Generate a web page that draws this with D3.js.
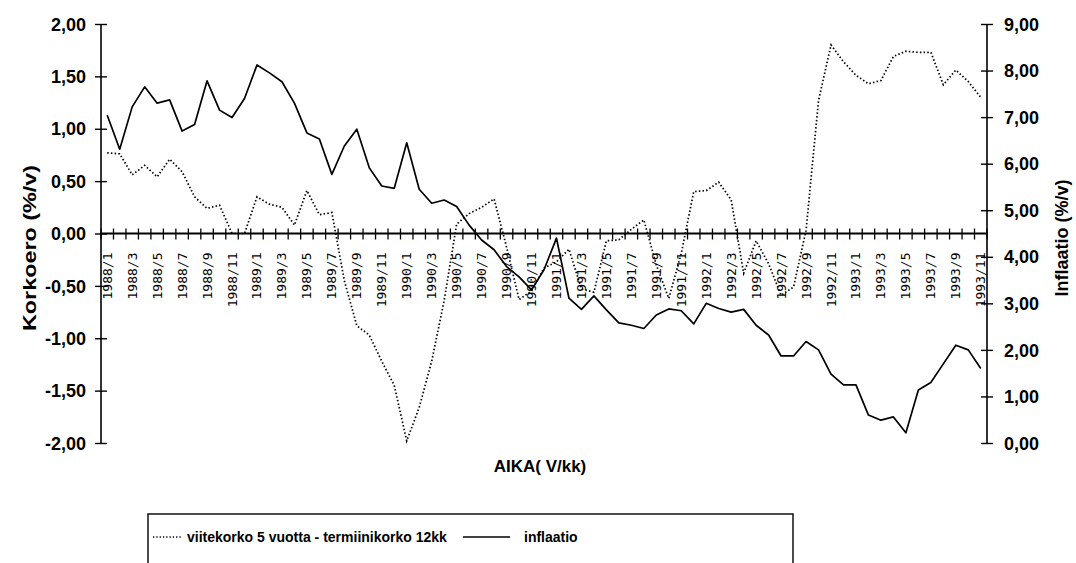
<!DOCTYPE html>
<html><head><meta charset="utf-8">
<script src="https://cdn.jsdelivr.net/npm/d3@7"></script>
<style>body{margin:0;background:#fff;} svg{display:block;}</style>
</head><body><svg id="c" width="1076" height="563"></svg>
<script>
const categories = [
"1988/1","1988/2","1988/3","1988/4","1988/5","1988/6","1988/7","1988/8","1988/9","1988/10","1988/11","1988/12",
"1989/1","1989/2","1989/3","1989/4","1989/5","1989/6","1989/7","1989/8","1989/9","1989/10","1989/11","1989/12",
"1990/1","1990/2","1990/3","1990/4","1990/5","1990/6","1990/7","1990/8","1990/9","1990/10","1990/11","1990/12",
"1991/1","1991/2","1991/3","1991/4","1991/5","1991/6","1991/7","1991/8","1991/9","1991/10","1991/11","1991/12",
"1992/1","1992/2","1992/3","1992/4","1992/5","1992/6","1992/7","1992/8","1992/9","1992/10","1992/11","1992/12",
"1993/1","1993/2","1993/3","1993/4","1993/5","1993/6","1993/7","1993/8","1993/9","1993/10","1993/11"];

// viitekorko 5 vuotta - termiinikorko 12kk (left axis, %/v)
const korkoero = [
0.77,0.76,0.56,0.65,0.54,0.71,0.59,0.35,0.24,0.27,0.00,0.00,
0.35,0.28,0.25,0.08,0.41,0.18,0.20,-0.45,-0.88,-0.97,-1.22,-1.45,
-1.98,-1.66,-1.22,-0.64,0.09,0.19,0.25,0.33,-0.13,-0.63,-0.55,-0.33,
-0.27,-0.15,-0.53,-0.56,-0.07,-0.06,0.04,0.13,-0.30,-0.62,-0.19,0.40,
0.41,0.49,0.32,-0.38,-0.07,-0.29,-0.59,-0.51,0.03,1.27,1.80,1.64,
1.51,1.43,1.46,1.69,1.74,1.73,1.73,1.42,1.56,1.45,1.30];

// inflaatio (right axis, %/v)
const inflaatio = [
7.04,6.31,7.22,7.65,7.30,7.37,6.70,6.84,7.78,7.15,6.99,7.40,
8.12,7.95,7.76,7.30,6.66,6.53,5.77,6.38,6.74,5.91,5.52,5.47,
6.45,5.45,5.15,5.22,5.08,4.68,4.36,4.15,3.79,3.57,3.29,3.72,
4.40,3.11,2.87,3.16,2.86,2.58,2.53,2.46,2.75,2.88,2.84,2.56,
3.00,2.89,2.81,2.87,2.53,2.32,1.87,1.87,2.18,2.00,1.48,1.25,
1.25,0.60,0.49,0.56,0.22,1.14,1.30,1.70,2.10,2.00,1.60];

const leftTicks = [-2,-1.5,-1,-0.5,0,0.5,1,1.5,2];
const rightTicks = [0,1,2,3,4,5,6,7,8,9];
const seriesNames = ["viitekorko 5 vuotta - termiinikorko 12kk","inflaatio"];
const leftTitle = "Korkoero (%/v)";
const rightTitle = "Inflaatio (%/v)";
const xTitle = "AIKA( V/kk)";

const fmt = v => v.toFixed(2).replace(".", ",");
const svg = d3.select("#c");
const FB = "'Liberation Sans', Arial, sans-serif";

const x = d3.scaleBand().domain(categories).range([101, 987]);
const bw = x.bandwidth();
const cx = c => x(c) + bw / 2;
const yL = d3.scaleLinear().domain([-2, 2]).range([443, 24]);
const yR = d3.scaleLinear().domain([0, 9]).range([443, 24]);

// left axis
const gL = svg.append("g").attr("transform", "translate(101,0)")
  .call(d3.axisLeft(yL).tickValues(leftTicks).tickFormat(fmt).tickSize(6).tickPadding(9));
gL.select(".domain").attr("d", `M0,${yL(2)}V${yL(-2)}`).attr("stroke", "#000").attr("stroke-width", 1.6);
gL.selectAll(".tick line").attr("x1", -6).attr("x2", 6).attr("stroke-width", 1.4);
gL.selectAll(".tick text").attr("font-family", FB).attr("font-weight", "bold").attr("font-size", 18).attr("fill", "#000").attr("dy", "0.34em");

// right axis
const gR = svg.append("g").attr("transform", "translate(987,0)")
  .call(d3.axisRight(yR).tickValues(rightTicks).tickFormat(fmt).tickSize(6).tickPadding(11));
gR.select(".domain").attr("d", `M0,${yR(9)}V${yR(0)}`).attr("stroke", "#000").attr("stroke-width", 1.6);
gR.selectAll(".tick line").attr("x1", -6).attr("x2", 6).attr("stroke-width", 1.4);
gR.selectAll(".tick text").attr("font-family", FB).attr("font-weight", "bold").attr("font-size", 18).attr("fill", "#000").attr("dy", "0.34em");

// x axis at zero
const y0 = yL(0);
svg.append("line").attr("x1", 101).attr("x2", 987).attr("y1", y0).attr("y2", y0)
  .attr("stroke", "#000").attr("stroke-width", 1.8);
const bounds = categories.map(c => x(c)).concat([x(categories[categories.length - 1]) + bw]);
svg.append("g").selectAll("line").data(bounds).join("line")
  .attr("x1", d => d).attr("x2", d => d).attr("y1", y0 - 5).attr("y2", y0 + 6)
  .attr("stroke", "#000").attr("stroke-width", 1.3);
svg.append("g").selectAll("text").data(categories.filter((c, i) => i % 2 === 0)).join("text")
  .attr("transform", d => `translate(${cx(d)},${y0 + 19}) rotate(-90)`)
  .attr("text-anchor", "end").attr("dominant-baseline", "central")
  .attr("font-family", "'DejaVu Sans Mono', 'Liberation Mono', monospace").attr("font-size", 13)
  .attr("fill", "#000").text(d => d);

// lines
const lineL = d3.line().x((d, i) => cx(categories[i])).y(d => yL(d));
const lineR = d3.line().x((d, i) => cx(categories[i])).y(d => yR(d));
svg.append("path").attr("d", lineL(korkoero)).attr("fill", "none")
  .attr("stroke", "#000").attr("stroke-width", 1.7).attr("stroke-dasharray", "1.5,2.2");
svg.append("path").attr("d", lineR(inflaatio)).attr("fill", "none")
  .attr("stroke", "#000").attr("stroke-width", 1.7).attr("stroke-linejoin", "round");

// axis titles
svg.append("text").attr("transform", "translate(29,248) rotate(-90)")
  .attr("text-anchor", "middle").attr("dominant-baseline", "central")
  .attr("font-family", FB).attr("font-weight", "bold").attr("font-size", 19)
  .attr("textLength", 166).attr("lengthAdjust", "spacingAndGlyphs").text(leftTitle);
svg.append("text").attr("transform", "translate(1062,238) rotate(-90)")
  .attr("text-anchor", "middle").attr("dominant-baseline", "central")
  .attr("font-family", FB).attr("font-weight", "bold").attr("font-size", 18).text(rightTitle);
svg.append("text").attr("x", 540).attr("y", 466)
  .attr("text-anchor", "middle").attr("dominant-baseline", "central")
  .attr("font-family", FB).attr("font-weight", "bold").attr("font-size", 17).text(xTitle);

// legend
svg.append("rect").attr("x", 148).attr("y", 514).attr("width", 645).attr("height", 80)
  .attr("fill", "none").attr("stroke", "#000").attr("stroke-width", 1.4);
const ly = 537;
svg.append("line").attr("x1", 153).attr("x2", 181).attr("y1", ly).attr("y2", ly)
  .attr("stroke", "#000").attr("stroke-width", 1.4).attr("stroke-dasharray", "1.3,2");
svg.append("text").attr("x", 187).attr("y", ly).attr("dominant-baseline", "central")
  .attr("font-family", FB).attr("font-weight", "bold").attr("font-size", 14).text(seriesNames[0]);
svg.append("line").attr("x1", 463).attr("x2", 510).attr("y1", ly).attr("y2", ly)
  .attr("stroke", "#000").attr("stroke-width", 1.5);
svg.append("text").attr("x", 524).attr("y", ly).attr("dominant-baseline", "central")
  .attr("font-family", FB).attr("font-weight", "bold").attr("font-size", 14).text(seriesNames[1]);
</script></body></html>
